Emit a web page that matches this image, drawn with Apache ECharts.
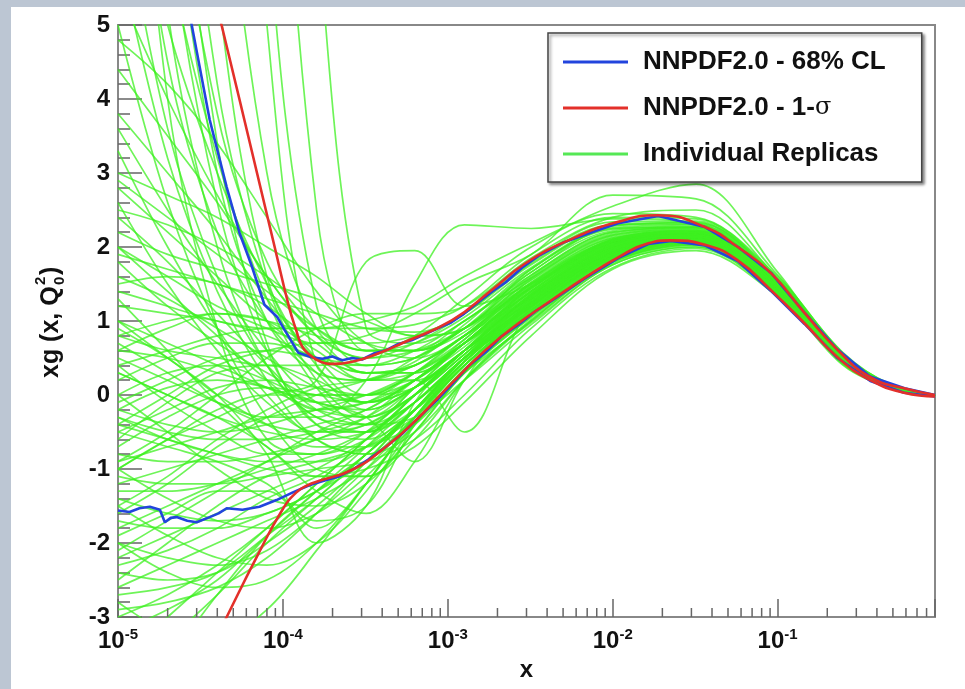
<!DOCTYPE html>
<html><head><meta charset="utf-8">
<script src="https://cdn.jsdelivr.net/npm/echarts@6/dist/echarts.min.js"></script>
<style>
html,body{margin:0;padding:0;width:965px;height:689px;overflow:hidden;background:#bcc6d3;}
#paper{position:absolute;left:11px;top:7px;width:954px;height:682px;background:#fff;}
#chart{position:absolute;left:0;top:0;width:965px;height:689px;}
</style></head><body>
<div id="paper"></div><div id="chart"></div>
<script>
// ---------- DATA ----------
const xGrid = [1e-5, 2e-5, 4e-5, 8e-5, 1.6e-4, 3.2e-4, 6.3e-4, 1.26e-3, 3.2e-3, 1e-2, 3.2e-2, 0.1, 0.25, 0.5, 0.9];

const replicasSteep = [
  [16.0, 7.5, 3.0, 1.0, 0.30, 0.20, 0.50, 0.90, 1.45, 2.06, 2.18, 1.46, 0.48, 0.11, -0.01],
  [12.0, 5.2, 2.0, 0.4, -0.20, -0.10, 0.30, 0.80, 1.30, 1.96, 2.13, 1.43, 0.47, 0.10, 0.00],
  [25.0, 12.0, 5.5, 1.6, 0.50, 0.40, 0.60, 1.00, 1.62, 2.20, 2.26, 1.51, 0.50, 0.12, -0.02],
  [30.0, 18.0, 8.5, 3.0, 0.90, 0.50, 0.70, 1.10, 1.78, 2.30, 2.31, 1.55, 0.54, 0.12, -0.01],
  [40.0, 30.0, 18.0, 6.5, 1.20, 0.40, 0.50, 0.90, 1.50, 2.10, 2.22, 1.48, 0.49, 0.11, 0.00],
  [9.0, 4.5, 2.2, 1.0, 0.30, -0.20, 0.10, 0.60, 1.20, 1.90, 2.10, 1.41, 0.44, 0.10, 0.00],
  [20.0, 9.0, 3.4, 0.7, -0.40, -0.50, 0.00, 0.60, 1.35, 2.02, 2.17, 1.45, 0.48, 0.11, -0.01],
  [7.0, 3.6, 1.6, 0.4, -0.30, -0.40, 0.10, 0.70, 1.40, 2.04, 2.16, 1.44, 0.47, 0.11, 0.00],
  [50.0, 40.0, 28.0, 12.0, 2.50, 0.60, 0.60, 1.00, 1.58, 2.16, 2.24, 1.50, 0.49, 0.11, -0.01],
  [11.0, 4.0, 0.9, -0.6, -0.80, -0.50, 0.10, 0.70, 1.42, 2.05, 2.19, 1.46, 0.48, 0.12, -0.01],
  [60.0, 45.0, 30.0, 16.0, 6.50, 0.90, 0.70, 1.00, 1.66, 2.25, 2.27, 1.52, 0.50, 0.12, -0.02],
  [35.0, 25.0, 14.0, 5.0, 0.40, 0.20, 0.40, 0.80, 1.38, 2.00, 2.15, 1.44, 0.47, 0.10, -0.01],
  [18.0, 8.0, 3.8, 1.8, 0.90, 0.60, 0.70, 1.05, 1.72, 2.28, 2.33, 1.56, 0.51, 0.12, -0.01],
  [8.0, 5.0, 3.0, 1.5, 0.40, -0.10, 0.20, 0.75, 1.47, 2.08, 2.19, 1.46, 0.48, 0.11, 0.00],
  [6.0, 3.2, 1.4, 0.2, -0.60, -0.80, -0.30, 0.40, 1.15, 1.88, 2.08, 1.40, 0.46, 0.10, 0.00],
  [22.0, 10.0, 4.2, 1.5, 0.20, -0.30, 0.00, 0.55, 1.28, 1.97, 2.15, 1.44, 0.48, 0.11, 0.00],
  [14.0, 6.5, 2.6, 0.6, -0.40, -0.60, -0.20, 0.45, 1.20, 1.92, 2.11, 1.42, 0.47, 0.11, 0.00],
  [10.0, 6.0, 3.2, 1.3, 0.10, -0.40, -0.10, 0.50, 1.24, 1.94, 2.12, 1.43, 0.47, 0.11, 0.00]
];
const replicasUpper = [
  [4.4, 3.5, 2.6, 1.6, 0.80, 0.50, 0.60, 0.90, 1.55, 2.12, 2.20, 1.47, 0.48, 0.11, -0.01],
  [3.0, 2.7, 2.4, 2.0, 1.60, 1.10, 0.80, 0.90, 1.48, 2.08, 2.19, 1.46, 0.49, 0.12, 0.00],
  [2.9, 2.4, 1.9, 1.4, 0.90, 0.60, 0.60, 0.90, 1.60, 2.18, 2.25, 1.50, 0.49, 0.11, -0.01],
  [5.5, 4.0, 2.7, 1.6, 0.80, 0.30, 0.30, 0.70, 1.25, 1.93, 2.12, 1.42, 0.47, 0.10, 0.00],
  [2.2, 1.9, 1.7, 1.5, 1.30, 1.00, 0.80, 0.90, 1.70, 2.24, 2.28, 1.53, 0.50, 0.12, -0.01],
  [1.8, 1.2, 0.7, 0.3, 0.00, 0.00, 0.30, 0.80, 1.45, 2.06, 2.18, 1.46, 0.48, 0.11, -0.01],
  [1.2, 1.1, 1.0, 0.8, 0.50, 0.30, 0.40, 0.80, 1.52, 2.10, 2.21, 1.48, 0.48, 0.11, 0.00],
  [0.6, 0.9, 1.1, 1.0, 0.60, 0.20, 0.30, 0.70, 1.32, 1.98, 2.14, 1.44, 0.47, 0.11, 0.00],
  [3.6, 2.5, 1.5, 0.6, -0.10, -0.30, 0.10, 0.60, 1.18, 1.88, 2.09, 1.40, 0.46, 0.10, 0.00],
  [1.5, 1.6, 1.5, 1.2, 0.70, 0.30, 0.30, 0.70, 1.40, 2.03, 2.17, 1.45, 0.48, 0.11, -0.01],
  [2.6, 1.5, 0.6, -0.1, -0.50, -0.50, -0.10, 0.50, 1.10, 1.84, 2.06, 1.39, 0.46, 0.10, 0.00],
  [0.2, 0.5, 0.7, 0.7, 0.50, 0.30, 0.40, 0.80, 1.50, 2.09, 2.20, 1.47, 0.49, 0.11, -0.01],
  [4.8, 4.2, 3.4, 2.4, 1.40, 0.70, 0.50, 0.80, 1.52, 2.12, 2.21, 1.48, 0.49, 0.11, -0.01],
  [3.8, 3.0, 2.2, 1.3, 0.50, 0.00, 0.10, 0.60, 1.33, 2.00, 2.16, 1.45, 0.48, 0.11, 0.00],
  [2.5, 2.3, 2.0, 1.6, 1.10, 0.70, 0.60, 0.85, 1.58, 2.16, 2.23, 1.49, 0.49, 0.12, -0.01],
  [1.6, 1.3, 0.9, 0.5, 0.10, -0.10, 0.20, 0.70, 1.44, 2.06, 2.18, 1.46, 0.48, 0.11, 0.00],
  [2.0, 1.4, 0.8, 0.2, -0.30, -0.50, -0.20, 0.40, 1.12, 1.86, 2.07, 1.40, 0.47, 0.11, 0.00],
  [0.8, 1.0, 1.1, 1.0, 0.80, 0.60, 0.60, 0.90, 1.62, 2.20, 2.26, 1.50, 0.49, 0.11, -0.01],
  [5.0, 2.6, 0.9, -0.3, -1.00, -1.10, -0.50, 0.30, 1.06, 1.83, 2.05, 1.38, 0.46, 0.10, 0.00],
  [3.3, 2.0, 0.9, 0.0, -0.60, -0.80, -0.50, 0.20, 1.00, 1.80, 2.03, 1.37, 0.46, 0.10, 0.00],
  [2.8, 2.2, 1.6, 1.0, 0.50, 0.20, 0.20, 0.60, 1.36, 2.02, 2.16, 1.45, 0.48, 0.11, 0.00],
  [1.9, 1.7, 1.5, 1.3, 1.10, 0.90, 0.85, 1.10, 1.76, 2.30, 2.33, 1.55, 0.51, 0.12, -0.01]
];
const replicasMiddle = [
  [0.0, 0.3, 0.4, 0.2, -0.10, -0.20, 0.10, 0.60, 1.28, 1.97, 2.15, 1.44, 0.47, 0.11, 0.00],
  [-0.5, -0.2, 0.1, 0.2, 0.10, 0.00, 0.20, 0.70, 1.44, 2.06, 2.18, 1.46, 0.48, 0.11, -0.01],
  [-1.0, -0.6, -0.2, 0.0, 0.00, 0.00, 0.30, 0.70, 1.36, 2.01, 2.16, 1.45, 0.48, 0.12, 0.00],
  [-0.3, -0.5, -0.6, -0.6, -0.50, -0.30, 0.10, 0.60, 1.22, 1.92, 2.11, 1.42, 0.47, 0.11, 0.00],
  [0.4, -0.1, -0.5, -0.8, -0.80, -0.60, -0.10, 0.50, 1.15, 1.87, 2.08, 1.40, 0.46, 0.10, 0.00],
  [-1.2, -1.0, -0.8, -0.6, -0.40, -0.20, 0.20, 0.70, 1.46, 2.07, 2.19, 1.47, 0.48, 0.11, -0.01],
  [-0.8, -0.9, -0.9, -0.8, -0.60, -0.30, 0.20, 0.70, 1.38, 2.02, 2.16, 1.45, 0.48, 0.11, 0.00],
  [0.9, 0.5, 0.0, -0.4, -0.70, -0.70, -0.20, 0.50, 1.24, 1.94, 2.12, 1.43, 0.47, 0.11, 0.00],
  [-1.5, -1.1, -0.6, -0.2, 0.10, 0.20, 0.40, 0.80, 1.56, 2.14, 2.22, 1.49, 0.49, 0.11, -0.01],
  [-0.6, -0.1, 0.3, 0.4, 0.20, -0.10, 0.10, 0.60, 1.34, 2.00, 2.16, 1.45, 0.48, 0.11, 0.00],
  [1.0, 0.7, 0.4, 0.1, -0.20, -0.30, 0.00, 0.55, 1.26, 1.96, 2.14, 1.44, 0.48, 0.11, 0.00],
  [0.3, 0.0, -0.3, -0.5, -0.60, -0.50, -0.10, 0.50, 1.20, 1.92, 2.12, 1.42, 0.47, 0.11, 0.00],
  [-0.2, -0.4, -0.5, -0.4, -0.20, 0.00, 0.30, 0.75, 1.50, 2.10, 2.20, 1.47, 0.48, 0.11, -0.01],
  [-0.9, -0.7, -0.5, -0.3, -0.20, -0.10, 0.20, 0.65, 1.40, 2.04, 2.17, 1.45, 0.48, 0.11, 0.00],
  [-0.1, 0.2, 0.5, 0.6, 0.50, 0.40, 0.50, 0.90, 1.66, 2.22, 2.27, 1.51, 0.50, 0.12, -0.01],
  [-0.7, -0.3, 0.0, 0.1, 0.00, -0.10, 0.10, 0.60, 1.32, 1.98, 2.15, 1.44, 0.47, 0.11, 0.00],
  [0.4, 0.6, 0.8, 0.9, 0.90, 0.90, 0.95, 1.20, 1.90, 2.40, 2.38, 1.57, 0.51, 0.12, -0.01],
  [-0.4, 0.0, 0.4, 0.6, 0.70, 0.70, 0.80, 1.10, 1.80, 2.34, 2.35, 1.56, 0.51, 0.12, -0.01],
  [0.7, 0.3, -0.1, -0.4, -0.50, -0.40, 0.00, 0.60, 1.34, 2.00, 2.16, 1.45, 0.48, 0.11, 0.00]
];
const replicasLow = [
  [-2.0, -2.2, -2.3, -2.1, -1.60, -1.00, -0.30, 0.40, 1.12, 1.86, 2.08, 1.40, 0.47, 0.11, 0.00],
  [-2.4, -2.5, -2.4, -2.0, -1.50, -0.90, -0.20, 0.50, 1.26, 1.95, 2.13, 1.43, 0.48, 0.11, -0.01],
  [-2.7, -2.6, -2.4, -1.9, -1.40, -0.80, -0.20, 0.50, 1.30, 1.97, 2.14, 1.44, 0.47, 0.10, 0.00],
  [-3.2, -2.9, -2.5, -1.9, -1.30, -0.70, -0.10, 0.50, 1.20, 1.90, 2.10, 1.41, 0.47, 0.11, 0.00],
  [-1.7, -1.8, -1.8, -1.6, -1.30, -0.80, -0.20, 0.50, 1.34, 2.00, 2.16, 1.45, 0.48, 0.11, -0.01],
  [-2.2, -1.9, -1.6, -1.3, -1.00, -0.60, 0.00, 0.60, 1.40, 2.04, 2.17, 1.46, 0.48, 0.12, 0.00],
  [-1.4, -1.6, -1.7, -1.6, -1.30, -0.90, -0.30, 0.40, 1.16, 1.88, 2.09, 1.41, 0.47, 0.11, 0.00],
  [-3.6, -3.0, -2.4, -1.8, -1.20, -0.60, 0.00, 0.60, 1.30, 1.98, 2.15, 1.44, 0.48, 0.11, -0.01],
  [-2.9, -2.8, -2.6, -2.2, -1.60, -0.90, -0.20, 0.50, 1.08, 1.82, 2.06, 1.38, 0.46, 0.10, 0.00],
  [-4.5, -3.6, -2.7, -1.9, -1.30, -0.80, -0.20, 0.50, 1.22, 1.92, 2.11, 1.42, 0.47, 0.11, 0.00],
  [-1.3, -1.3, -1.2, -1.0, -0.80, -0.50, -0.10, 0.50, 1.24, 1.94, 2.12, 1.43, 0.47, 0.11, 0.00],
  [-1.8, -1.5, -1.2, -0.9, -0.60, -0.40, 0.00, 0.55, 1.30, 1.98, 2.14, 1.44, 0.48, 0.11, -0.01],
  [-2.3, -2.1, -1.8, -1.4, -1.10, -0.70, -0.20, 0.45, 1.18, 1.90, 2.10, 1.41, 0.47, 0.11, 0.00],
  [-2.6, -2.3, -2.0, -1.7, -1.40, -1.00, -0.40, 0.35, 1.10, 1.85, 2.07, 1.39, 0.46, 0.10, 0.00],
  [-3.0, -2.7, -2.3, -1.8, -1.20, -0.60, 0.00, 0.60, 1.36, 2.02, 2.16, 1.45, 0.48, 0.11, -0.01],
  [-1.0, -1.4, -1.7, -1.8, -1.60, -1.10, -0.40, 0.35, 1.12, 1.87, 2.08, 1.40, 0.47, 0.11, 0.00],
  [-2.0, -2.4, -2.6, -2.5, -2.00, -1.20, -0.30, 0.45, 1.22, 1.93, 2.12, 1.43, 0.47, 0.11, 0.00],
  [-2.8, -3.2, -3.3, -2.9, -2.10, -1.20, -0.30, 0.45, 1.25, 1.95, 2.13, 1.43, 0.48, 0.11, -0.01],
  [-1.5, -1.9, -2.2, -2.3, -2.00, -1.30, -0.40, 0.35, 1.14, 1.88, 2.09, 1.41, 0.47, 0.11, 0.00],
  [-1.6, -1.2, -0.7, -0.3, 0.00, 0.20, 0.45, 0.95, 1.70, 2.26, 2.30, 1.54, 0.50, 0.12, -0.01],
  [-2.1, -1.7, -1.3, -0.9, -0.50, -0.20, 0.20, 0.70, 1.46, 2.08, 2.19, 1.47, 0.48, 0.11, -0.01],
  [-3.8, -3.3, -2.7, -2.0, -1.40, -0.80, -0.20, 0.45, 1.20, 1.92, 2.11, 1.42, 0.47, 0.11, 0.00]
];
const replicasDip = [
  [1.0, 0.5, 0.0, -0.8, -2.00, -1.50, -0.10, 0.60, 1.36, 2.01, 2.16, 1.45, 0.48, 0.11, -0.01],
  [-0.5, -0.7, -0.9, -1.2, -1.70, -1.50, -0.40, 0.40, 1.14, 1.86, 2.07, 1.40, 0.41, 0.11, 0.00],
  [0.3, 0.0, -0.3, -0.7, -1.30, -1.60, -0.90, 0.20, 1.00, 1.78, 2.02, 1.37, 0.46, 0.10, 0.00],
  [-0.2, 0.1, 0.2, 0.1, -0.10, 0.00, 0.20, -0.50, 1.20, 1.90, 2.10, 1.41, 0.47, 0.11, 0.00],
  [0.6, 0.5, 0.3, 0.1, -0.10, -0.30, -0.90, 0.20, 1.28, 1.96, 2.14, 1.44, 0.48, 0.11, -0.01],
  [-1.9, -1.6, -1.3, -1.3, -1.80, -1.20, -0.30, 0.40, 1.18, 1.90, 2.10, 1.41, 0.47, 0.11, 0.00],
  [-1.1, -1.2, -1.2, -1.1, -1.00, -0.90, -0.60, 0.00, 0.90, 1.72, 1.98, 1.34, 0.40, 0.09, -0.02],
  [-0.4, -0.6, -0.8, -1.0, -1.10, -1.00, -0.70, -0.10, 0.80, 1.70, 1.95, 1.33, 0.45, 0.10, 0.00],
  [2.4, 1.8, 1.1, 0.4, -0.20, -0.40, -0.30, 0.20, 0.95, 1.76, 2.00, 1.36, 0.42, 0.10, 0.00],
  [-2.5, -2.0, -1.5, -1.1, -0.90, -0.70, -0.40, 0.30, 1.05, 1.80, 2.04, 1.38, 0.46, 0.10, 0.00],
  [0.0, -0.5, -1.0, -1.4, -1.50, -1.20, -0.50, 0.30, 1.08, 1.84, 2.06, 1.39, 0.46, 0.10, 0.00],
  [1.3, 0.6, -0.1, -0.7, -1.10, -1.10, -0.60, 0.20, 1.02, 1.80, 2.04, 1.38, 0.46, 0.10, 0.00],
  [-0.3, -0.6, -0.8, -0.9, -0.90, -0.70, -0.30, 0.30, 0.98, 1.76, 2.00, 1.35, 0.46, 0.10, 0.00]
];
const replicasHump = [
  [-1.0, -0.6, -0.3, 0.0, 0.20, 1.80, 1.95, 1.20, 1.50, 2.10, 2.20, 1.47, 0.48, 0.11, -0.01],
  [0.5, 0.2, -0.1, -0.3, -0.30, 0.20, 1.50, 2.30, 2.25, 2.38, 2.32, 1.50, 0.48, 0.11, -0.01],
  [2.0, 1.6, 1.2, 0.9, 0.70, 0.80, 1.10, 1.50, 1.90, 2.70, 2.65, 1.62, 0.56, 0.12, -0.01],
  [1.4, 1.2, 1.0, 0.9, 0.90, 1.00, 1.20, 1.60, 2.05, 2.55, 2.85, 1.66, 0.49, 0.11, -0.01],
  [-0.9, -0.5, 0.0, 0.5, 0.90, 1.10, 1.10, 1.20, 1.85, 2.40, 2.50, 1.58, 0.57, 0.12, 0.00],
  [0.8, 0.6, 0.5, 0.4, 0.40, 0.50, 0.80, 1.30, 2.00, 2.45, 2.40, 1.60, 0.55, 0.13, -0.01]
];

const blueUpperLogX = [-4.65, -4.553, -4.444, -4.341, -4.263, -4.19, -4.112, -4.033, -3.99, -3.906, -3.827, -3.76, -3.70, -3.64, -3.58, -3.52, -3.45, -3.38, -3.3, -3.22, -3.14, -3.06, -2.98, -2.9, -2.8, -2.73, -2.65, -2.55, -2.45, -2.3, -2.1, -1.967, -1.725, -1.44, -1.24, -1.04, -0.84, -0.64, -0.44, -0.23, -0.046];
const blueUpperY = [6.2, 5.0, 3.72, 2.81, 2.19, 1.75, 1.22, 1.05, 0.88, 0.57, 0.51, 0.49, 0.52, 0.47, 0.50, 0.48, 0.56, 0.60, 0.69, 0.74, 0.82, 0.90, 0.98, 1.10, 1.28, 1.40, 1.52, 1.72, 1.88, 2.06, 2.22, 2.32, 2.42, 2.27, 2.0, 1.65, 1.12, 0.62, 0.25, 0.09, 0.0];
const blueLowerLogX = [-5, -4.93, -4.87, -4.807, -4.746, -4.716, -4.68, -4.644, -4.58, -4.523, -4.444, -4.39, -4.341, -4.245, -4.142, -4.039, -3.943, -3.84, -3.737, -3.66, -3.58, -3.48, -3.375, -3.275, -3.175, -3.07, -2.976, -2.87, -2.77, -2.67, -2.571, -2.47, -2.372, -2.166, -1.967, -1.785, -1.647, -1.441, -1.242, -1.042, -0.837, -0.637, -0.438, -0.233, -0.046];
const blueLowerY = [-1.56, -1.58, -1.53, -1.51, -1.55, -1.72, -1.66, -1.65, -1.70, -1.72, -1.65, -1.60, -1.53, -1.55, -1.51, -1.42, -1.32, -1.22, -1.15, -1.10, -1.01, -0.87, -0.70, -0.52, -0.30, -0.08, 0.14, 0.40, 0.58, 0.80, 0.95, 1.13, 1.27, 1.58, 1.85, 2.04, 2.08, 2.02, 1.81, 1.41, 0.96, 0.50, 0.19, 0.03, -0.02];
const redUpperLogX = [-4.683, -4.372, -4.264, -4.157, -4.050, -3.964, -3.92, -3.882, -3.83, -3.79, -3.72, -3.58, -3.4, -3.278, -2.976, -2.734, -2.529, -2.269, -1.967, -1.725, -1.441, -1.242, -1.042, -0.837, -0.637, -0.438, -0.233, -0.046];
const redUpperY = [7.9, 5.0, 4.0, 3.0, 2.0, 1.2, 0.88, 0.65, 0.53, 0.47, 0.42, 0.45, 0.58, 0.70, 1.01, 1.42, 1.78, 2.09, 2.34, 2.43, 2.27, 2.0, 1.65, 1.11, 0.61, 0.24, 0.09, 0.0];
const redLowerLogX = [-4.6, -4.341, -4.15, -4.003, -3.92, -3.85, -3.779, -3.58, -3.375, -3.175, -2.976, -2.77, -2.571, -2.372, -2.166, -1.967, -1.785, -1.647, -1.441, -1.242, -1.042, -0.837, -0.637, -0.438, -0.233, -0.046];
const redLowerY = [-4.16, -3.0, -2.15, -1.55, -1.32, -1.22, -1.16, -1.01, -0.70, -0.30, 0.16, 0.61, 0.97, 1.28, 1.59, 1.86, 2.05, 2.09, 2.03, 1.82, 1.42, 0.97, 0.51, 0.20, 0.03, -0.02];

const xMinorTicks = [2e-5,3e-5,4e-5,5e-5,6e-5,7e-5,8e-5,9e-5,
  2e-4,3e-4,4e-4,5e-4,6e-4,7e-4,8e-4,9e-4,
  2e-3,3e-3,4e-3,5e-3,6e-3,7e-3,8e-3,9e-3,
  2e-2,3e-2,4e-2,5e-2,6e-2,7e-2,8e-2,9e-2,
  0.2,0.3,0.4,0.5,0.6,0.7,0.8];

const xMin = 1e-5, xMax = 0.9, yMin = -3, yMax = 5;
const NAME_CL = 'NNPDF2.0 - 68% CL', NAME_SIG = 'NNPDF2.0 - 1-σ', NAME_REP = 'Individual Replicas';

// ---------- CHART ----------
const FONT = '"Liberation Sans", Arial, Helvetica, sans-serif';
const GREEN = '#3ef020', BLUE = '#2244dd', RED = '#e3302a';
const series = [];
[].concat(replicasSteep, replicasUpper, replicasMiddle, replicasLow, replicasDip, replicasHump).forEach(row => {
  series.push({
    type: 'line', name: NAME_REP, data: row.map((v, i) => [xGrid[i], v]),
    smooth: 0.35, symbol: 'none', silent: true, animation: false, z: 2,
    itemStyle: {color: GREEN}, lineStyle: {color: GREEN, width: 1.7, opacity: 0.75}
  });
});
function pairLine(name, lx, ys, color) {
  return {type: 'line', name, data: lx.map((l, i) => [Math.pow(10, l), ys[i]]),
    smooth: false, symbol: 'none', silent: true, animation: false, z: 3,
    itemStyle: {color}, lineStyle: {color, width: 2.6}};
}
series.push(pairLine(NAME_CL, blueUpperLogX, blueUpperY, BLUE));
series.push(pairLine(NAME_CL, blueLowerLogX, blueLowerY, BLUE));
const ru = pairLine(NAME_SIG, redUpperLogX, redUpperY, RED); ru.smooth = 0.5; ru.z = 4;
const rl = pairLine(NAME_SIG, redLowerLogX, redLowerY, RED); rl.smooth = 0.5; rl.z = 4;
series.push(ru, rl);
series.push({
  type: 'custom', name: 'minorTicks', coordinateSystem: 'cartesian2d', silent: true, animation: false, z: 6, clip: false,
  data: xMinorTicks.map(v => [v, yMin]),
  renderItem: (params, api) => {
    const p = api.coord([api.value(0), api.value(1)]);
    return {type: 'line', shape: {x1: p[0], y1: p[1], x2: p[0], y2: p[1] - 9}, style: {stroke: '#666', lineWidth: 1.5}};
  }
});

const chart = echarts.init(document.getElementById('chart'), null, {renderer: 'canvas'});
chart.setOption({
  animation: false,
  backgroundColor: 'transparent',
  grid: {left: 118, right: 30, top: 25, bottom: 72, show: true, borderColor: '#888', borderWidth: 2, backgroundColor: 'transparent'},
  xAxis: {
    type: 'log', logBase: 10, min: xMin, max: xMax, splitNumber: 5,
    axisLine: {onZero: false, lineStyle: {color: '#888', width: 2}},
    axisTick: {inside: true, length: 18, lineStyle: {color: '#666', width: 1.5}},
    minorTick: {show: false}, splitLine: {show: false},
    axisLabel: {
      margin: 10, color: '#111',
      formatter: v => { const e = Math.log10(v); if (Math.abs(e - Math.round(e)) > 1e-6) return ''; return '{b|10}{s|' + Math.round(e) + '}'; },
      rich: {
        b: {fontFamily: FONT, fontSize: 24, fontWeight: 'bold', color: '#111'},
        s: {fontFamily: FONT, fontSize: 15, fontWeight: 'bold', color: '#111', padding: [0, 0, 14, 0]}
      }
    },
    name: 'x', nameLocation: 'middle', nameGap: 36,
    nameTextStyle: {fontFamily: FONT, fontSize: 24, fontWeight: 'bold', color: '#111'}
  },
  yAxis: {
    type: 'value', min: yMin, max: yMax, interval: 1,
    axisLine: {show: true, onZero: false, lineStyle: {color: '#888', width: 2}},
    axisTick: {inside: true, length: 24, lineStyle: {color: '#666', width: 1.5}},
    minorTick: {show: true, splitNumber: 5, length: 12, lineStyle: {color: '#666', width: 1.5}},
    splitLine: {show: false},
    axisLabel: {margin: 8, fontFamily: FONT, fontSize: 24, fontWeight: 'bold', color: '#111'}
  },
  legend: {
    show: true, orient: 'vertical', left: 548, top: 33, padding: [16, 36, 15, 15], itemGap: 20,
    itemWidth: 65, itemHeight: 3, icon: 'rect', selectedMode: false,
    backgroundColor: '#fff', borderColor: '#444', borderWidth: 1.5,
    shadowColor: 'rgba(0,0,0,0.45)', shadowBlur: 3, shadowOffsetX: 2, shadowOffsetY: 2,
    formatter: name => name === NAME_SIG ? 'NNPDF2.0 - 1-{g|σ}' : name,
    textStyle: {fontFamily: FONT, fontSize: 26, fontWeight: 'bold', color: '#111', padding: [0, 0, 0, 10],
      rich: {g: {fontFamily: '"DejaVu Serif", serif', fontSize: 24, fontWeight: 'normal', color: '#111'}}},
    data: [
      {name: NAME_CL, itemStyle: {color: BLUE}},
      {name: NAME_SIG, itemStyle: {color: RED}},
      {name: NAME_REP, itemStyle: {color: '#55e855'}}
    ],
    z: 10
  },
  graphic: [{
    type: 'group', x: 51, y: 378, rotation: Math.PI / 2,
    children: [
      {type: 'text', x: 0, y: 0, style: {text: 'xg (x, Q', font: 'bold 25px ' + FONT, fill: '#111', textAlign: 'left', textVerticalAlign: 'middle', align: 'left', verticalAlign: 'middle'}},
      {type: 'text', x: 93, y: -10, style: {text: '2', font: 'bold 15px ' + FONT, fill: '#111', textAlign: 'left', textVerticalAlign: 'middle', align: 'left', verticalAlign: 'middle'}},
      {type: 'text', x: 93, y: 9, style: {text: '0', font: 'bold 15px ' + FONT, fill: '#111', textAlign: 'left', textVerticalAlign: 'middle', align: 'left', verticalAlign: 'middle'}},
      {type: 'text', x: 103, y: 0, style: {text: ')', font: 'bold 25px ' + FONT, fill: '#111', textAlign: 'left', textVerticalAlign: 'middle', align: 'left', verticalAlign: 'middle'}}
    ]
  }],
  series
});
</script>
</body></html>
